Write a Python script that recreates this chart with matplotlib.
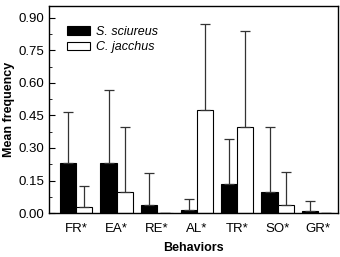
import numpy as np
import matplotlib.pyplot as plt
from matplotlib.ticker import MultipleLocator
plt.rcParams["font.family"] = ["Liberation Sans", "DejaVu Sans"]

# ---------------------------------- data
behaviors = ['FR*', 'EA*', 'RE*', 'AL*', 'TR*', 'SO*', 'GR*']
saimiri_mean = [0.23, 0.232, 0.037, 0.014, 0.132, 0.097, 0.009]
saimiri_err = [0.235, 0.337, 0.148, 0.051, 0.208, 0.30, 0.048]
callithrix_mean = [0.026, 0.098, 0.0, 0.475, 0.398, 0.037, 0.0]
callithrix_err = [0.097, 0.30, 0.0, 0.397, 0.443, 0.151, 0.0]

fig = plt.figure(figsize=(3.4, 2.57), dpi=100)
ax = fig.add_axes([0.144, 0.171, 0.85, 0.806])

x = np.arange(1, len(behaviors) + 1)
w = 0.4
ekw = dict(ecolor='#333333', elinewidth=0.9, capsize=3.5, capthick=0.9)
ax.bar(x - w / 2, saimiri_mean, w, color='black', edgecolor='black', lw=0.8,
       yerr=[np.zeros(len(x)), saimiri_err], error_kw=ekw, label='S. sciureus')
ax.bar(x + w / 2, callithrix_mean, w, color='white', edgecolor='black', lw=0.8,
       yerr=[np.zeros(len(x)), callithrix_err], error_kw=ekw, label='C. jacchus')

ax.set_xlim(0.32, 7.5)
ax.set_ylim(0, 0.955)
ax.yaxis.set_major_locator(MultipleLocator(0.15))
ax.yaxis.set_minor_locator(MultipleLocator(0.075))
ax.set_yticks(np.arange(0, 0.91, 0.15))
ax.set_yticklabels(['%.2f' % v for v in np.arange(0, 0.91, 0.15)])
ax.set_xticks(x)
ax.set_xticklabels(behaviors)
ax.tick_params(axis='y', which='both', direction='in', labelsize=9.5)
ax.tick_params(axis='y', which='major', length=4)
ax.tick_params(axis='y', which='minor', length=2)
ax.tick_params(axis='x', length=0, labelsize=9.5, pad=7)
for s in ax.spines.values():
    s.set_linewidth(1.0)

ax.set_ylabel('Mean frequency', fontsize=9, fontweight='bold', labelpad=2)
ax.set_xlabel('Behaviors', fontsize=9, fontweight='bold', labelpad=5)

leg = ax.legend(loc='upper left', frameon=False,
                prop={'style': 'italic', 'size': 9},
                handlelength=1.85, handleheight=0.7, handletextpad=0.5,
                borderpad=0, borderaxespad=0, labelspacing=0.3,
                bbox_to_anchor=(0.062, 0.905))

fig.savefig('out.png', dpi=100)
